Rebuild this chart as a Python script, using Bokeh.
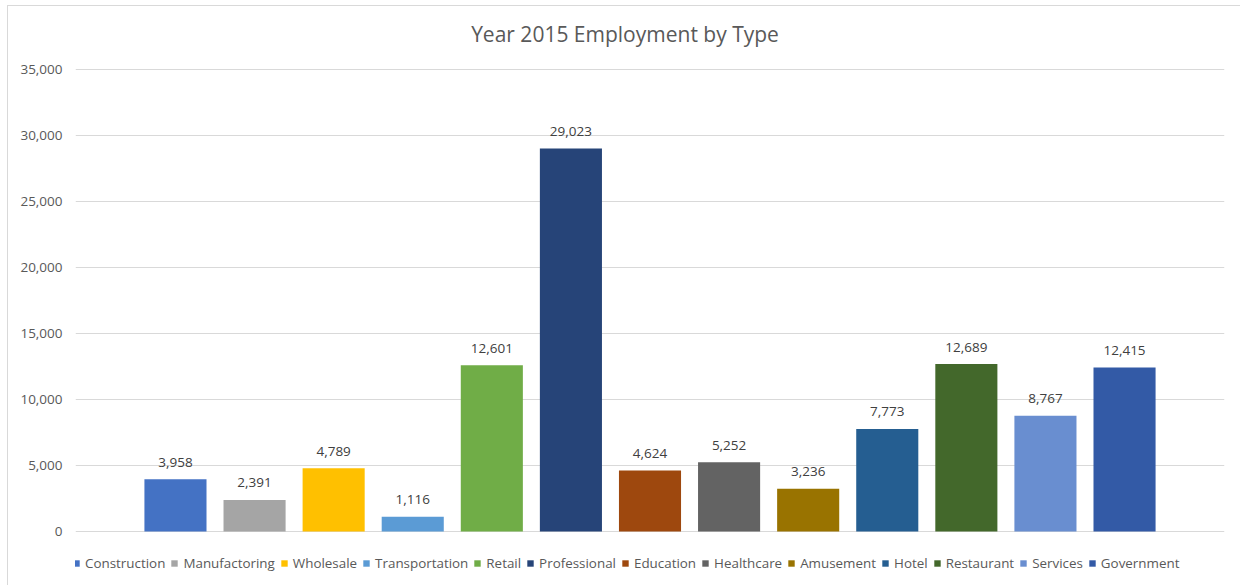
from bokeh.plotting import figure
from bokeh.models import (ColumnDataSource, Range1d, NumeralTickFormatter, FixedTicker,
                          Legend, LegendItem, Label)
from bokeh.core.properties import value
from bokeh.embed import file_html
from bokeh.resources import INLINE

categories = ["Construction", "Manufactoring", "Wholesale", "Transportation", "Retail",
              "Professional", "Education", "Healthcare", "Amusement", "Hotel",
              "Restaurant", "Services", "Government"]
employment = [3958, 2391, 4789, 1116, 12601, 29023, 4624, 5252, 3236, 7773, 12689, 8767, 12415]
colors = ["#4472C4", "#A5A5A5", "#FFC000", "#5B9BD5", "#70AD47", "#264478", "#9E480E",
          "#636363", "#997300", "#255E91", "#43682B", "#698ED0", "#335AA6"]
y_ticks = [0, 5000, 10000, 15000, 20000, 25000, 30000, 35000]
title_text = "Year 2015 Employment by Type"

FONT = "Open Sans"

src = ColumnDataSource(dict(
    x=list(range(len(categories))),
    cat=categories,
    val=employment,
    color=colors,
    lab=[f"{v:,}" for v in employment],
))

# The frame covers the whole chart box; the value axis (0..35,000) occupies 462 px of it,
# with room above for the title and below for the legend (gridlines only at ticks).
AX_MAX = 35000
PX_PER_UNIT = 462 / AX_MAX
y_top = AX_MAX + 63 / PX_PER_UNIT
y_bottom = -49 / PX_PER_UNIT

p = figure(width=1233, height=580, output_backend="svg", toolbar_location=None,
           x_range=Range1d(-1.264, len(categories) - 1 + 1.264),
           y_range=Range1d(y_bottom, y_top),
           min_border_left=67, min_border_right=17, min_border_top=0, min_border_bottom=6)
p.margin = (5, 0, 0, 7)
p.styles = {"border-top": "1px solid #d9d9d9", "border-left": "1px solid #d9d9d9"}

p.outline_line_color = None
p.xaxis.visible = False
p.xgrid.visible = False
p.ygrid.grid_line_color = "#d9d9d9"
p.ygrid.grid_line_width = 1

ya = p.yaxis[0]
ya.ticker = FixedTicker(ticks=y_ticks)
ya.formatter = NumeralTickFormatter(format="0,0")
ya.axis_line_color = None
ya.major_tick_line_color = None
ya.minor_tick_line_color = None
ya.major_tick_out = 0
ya.major_tick_in = 0
ya.major_label_standoff = 13
ya.major_label_text_font = FONT
ya.major_label_text_font_size = "13.5px"
ya.major_label_text_color = "#595959"

bars = p.vbar(x="x", top="val", bottom=0, width=0.785, fill_color="color", line_color=None, source=src)

p.text(x="x", y="val", text="lab", source=src, text_align="center", text_baseline="middle",
       y_offset=-17, text_font=value(FONT), text_font_size="13.5px", text_color="#404040")

# chart title (screen units relative to the frame's bottom-left corner)
title = Label(text=title_text, x=549.5, y=547, x_units="screen", y_units="screen",
              text_align="center", text_baseline="middle", text_font=FONT,
              text_font_size="21px", text_color="#595959")
p.add_layout(title)

legend = Legend(items=[LegendItem(label=categories[i], renderers=[bars], index=i)
                       for i in range(len(categories))])
legend.orientation = "horizontal"
legend.location = (-3, 8)
legend.glyph_width = 8
legend.glyph_height = 8
legend.label_standoff = 5
legend.spacing = 5
legend.label_height = 14
legend.label_text_font = FONT
legend.label_text_font_size = "13.4px"
legend.label_text_color = "#595959"
legend.padding = 3
legend.margin = 0
legend.border_line_color = None
legend.background_fill_alpha = 0
p.add_layout(legend, "center")

open("out.html", "w").write(file_html(p, INLINE))
